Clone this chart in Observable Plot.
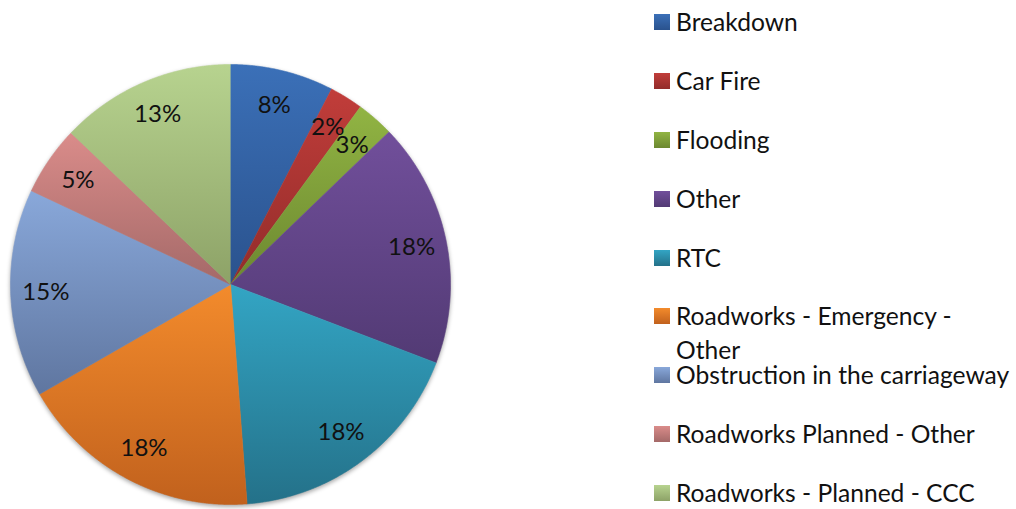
<!DOCTYPE html>
<html>
<head>
<meta charset="utf-8">
<script src="https://cdn.jsdelivr.net/npm/d3@7"></script>
<script src="https://cdn.jsdelivr.net/npm/@observablehq/plot@0.6"></script>
<style>
  html, body { margin: 0; padding: 0; background: #fff; }
  #wrap { position: relative; width: 1016px; height: 509px; overflow: hidden; font-family: Lato, "Open Sans", sans-serif; }
  #chart { position: absolute; left: 0; top: 0; }
  #legend { position: absolute; left: 654px; top: -7.45px; }
  .item { position: relative; height: 58.9px; width: 362px; }
  .sw { position: absolute; left: 0; top: 21.45px; width: 16px; height: 16px; }
  .lab { position: absolute; left: 22px; top: 12.45px; line-height: 34px; font-size: 24.6px; color: #111; white-space: nowrap; }
  #chart g[aria-label="line"] { filter: drop-shadow(0px 2px 2px rgba(0,0,0,0.35)); }
</style>
</head>
<body>
<div id="wrap">
  <div id="chart"></div>
  <div id="legend"></div>
</div>
<script>
// ---- data ----
const categories = ["Breakdown", "Car Fire", "Flooding", "Other", "RTC",
  "Roadworks - Emergency - Other", "Obstruction in the carriageway",
  "Roadworks Planned - Other", "Roadworks - Planned - CCC"];
const values = [7.6, 2.45, 2.75, 18.0, 18.0, 17.9, 15.3, 5.1, 12.9];
const legendLines = [["Breakdown"], ["Car Fire"], ["Flooding"], ["Other"], ["RTC"],
  ["Roadworks - Emergency -", "Other"], ["Obstruction in the carriageway"],
  ["Roadworks Planned - Other"], ["Roadworks - Planned - CCC"]];
const topColors = ["#3b70b8", "#c13d3a", "#91b443", "#714f9b", "#33a5c4", "#f38b2c", "#89a8da", "#da8c8a", "#b7d38f"];
const bottomColors = ["#2a528d", "#922c2a", "#6c8830", "#523a74", "#247189", "#c1611d", "#5f76a0", "#a46968", "#8da267"];

// ---- build slices through d3.pie ----
const pie = d3.pie().sort(null).startAngle(0).endAngle(2 * Math.PI);
const arcs = pie(values);
const slicePoints = [];
const labels = [];
arcs.forEach((a, i) => {
  const key = `url(#slice-grad-${i})`;
  slicePoints.push({x: 0, y: 0, key});
  const n = Math.max(2, Math.ceil((a.endAngle - a.startAngle) / 0.005));
  for (let k = 0; k <= n; k++) {
    const t = a.startAngle + (a.endAngle - a.startAngle) * k / n;
    slicePoints.push({x: Math.sin(t), y: Math.cos(t), key});
  }
  const mid = (a.startAngle + a.endAngle) / 2;
  const r = 0.84;
  labels.push({x: r * Math.sin(mid), y: r * Math.cos(mid), text: Math.round(values[i]) + "%"});
});

const svg = Plot.plot({
  width: 1016,
  height: 509,
  marginLeft: 10,
  marginRight: 566,
  marginTop: 64,
  marginBottom: 5,
  x: {domain: [-1, 1], axis: null},
  y: {domain: [-1, 1], axis: null},
  color: {type: "identity"},
  marks: [
    Plot.line(slicePoints, {x: "x", y: "y", z: "key", fill: "key", stroke: "key", strokeWidth: 0.6, curve: "linear"}),
    Plot.text(labels, {x: "x", y: "y", text: "text", fontSize: 24, fontFamily: "Lato, 'Open Sans', sans-serif", fill: "#111", textAnchor: "middle", lineAnchor: "middle"})
  ]
});

// gradients for each slice (light top, dark bottom)
const defs = d3.select(svg).insert("defs", ":first-child");
categories.forEach((c, i) => {
  const g = defs.append("linearGradient").attr("id", `slice-grad-${i}`)
    .attr("x1", 0).attr("y1", 0).attr("x2", 0).attr("y2", 1);
  g.append("stop").attr("offset", "0%").attr("stop-color", topColors[i]);
  g.append("stop").attr("offset", "100%").attr("stop-color", bottomColors[i]);
});
document.getElementById("chart").appendChild(svg);

// legend
const legend = d3.select("#legend");
categories.forEach((c, i) => {
  const it = legend.append("div").attr("class", "item");
  it.append("div").attr("class", "sw")
    .style("background", `linear-gradient(to bottom, ${topColors[i]}, ${bottomColors[i]})`);
  it.append("div").attr("class", "lab").html(legendLines[i].join("<br>"));
});
</script>
</body>
</html>
